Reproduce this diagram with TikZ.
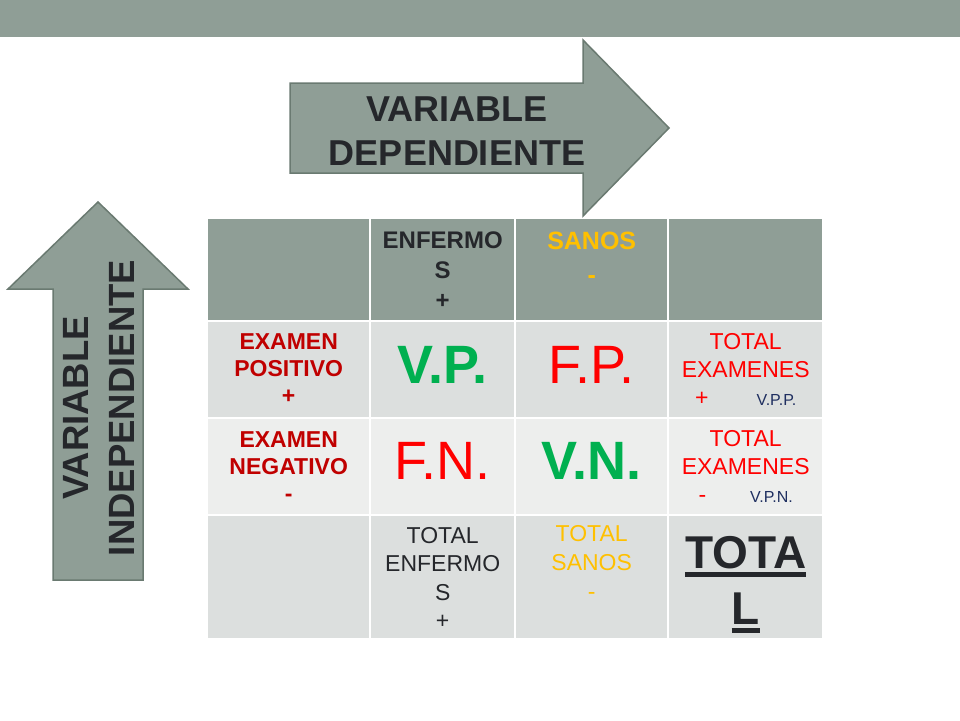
\documentclass[tikz,border=0pt]{standalone}
\usepackage{fontspec}
\setmainfont{Liberation Sans}

\definecolor{slide}{HTML}{8F9E96}
\definecolor{slideline}{HTML}{6A7A71}
\definecolor{rowa}{HTML}{DCDFDE}
\definecolor{rowb}{HTML}{EDEEED}
\definecolor{ink}{HTML}{25272B}
\definecolor{examred}{HTML}{C00000}
\definecolor{hitred}{HTML}{FF0000}
\definecolor{hitgreen}{HTML}{00B050}
\definecolor{sano}{HTML}{FFC000}
\definecolor{navy}{HTML}{1F2F60}

\newcommand{\fs}[2]{\fontsize{#1}{#2}\selectfont}
\newcommand{\thickul}[1]{\setbox0\hbox{#1}\rlap{\rule[-8.5pt]{\wd0}{5pt}}\box0}

\begin{document}
\begin{tikzpicture}[x=1pt,y=-1pt,
  cell/.style={inner sep=0pt,anchor=north west},
  txt/.style={inner sep=0pt,align=center},
  bigarrow/.style={fill=slide,draw=slideline,line width=1.5pt}]

\useasboundingbox (0,0) rectangle (960,720);
\fill[slide] (0,0) rectangle (960,37);

\draw[bigarrow] (290,83) -- (583,83) -- (583,40) -- (669,128) -- (583,216) -- (583,173) -- (290,173) -- cycle;
\node[txt,text=ink,font=\bfseries\fs{36}{44}] (vdep) at (457,131) {VARIABLE\\DEPENDIENTE};

\draw[bigarrow] (53,580) -- (53,289) -- (8,289) -- (98,202) -- (188,289) -- (143,289) -- (143,580) -- cycle;
\node[txt,text=ink,font=\bfseries\fs{36.5}{46},rotate=90] (vind) at (99,408) {VARIABLE\\INDEPENDIENTE};

\foreach \r/\ty/\h/\col in {0/219/101/slide,1/322/95/rowa,2/419/95/rowb,3/516/122/rowa}
  \foreach \c/\lx/\w in {0/208/161,1/371/143,2/516/151,3/669/153}
    \node[cell,fill=\col,minimum width=\w pt,minimum height=\h pt] (c\r\c) at (\lx,\ty) {};

\node[txt,text=ink,font=\bfseries\fs{24}{30}] (hsick) at (c01) {ENFERMO\\S\\+};
\node[txt,text=sano,font=\bfseries\fs{25}{34},anchor=north] (hwell) at ([yshift=-13pt]c02.north) {SANOS\\-};

\node[txt,text=examred,font=\bfseries\fs{23}{27}] (pos) at ([yshift=1pt]c10) {EXAMEN\\POSITIVO\\+};
\node[txt,text=hitgreen,font=\bfseries\fs{54}{60}] (vp) at ([yshift=5pt]c11) {V.P.};
\node[txt,text=hitred,font=\fs{54}{60}] (fp) at ([yshift=5pt]c12) {F.P.};
\node[txt,text=hitred,font=\fs{23}{28}] (tpos) at (c13) {TOTAL\\EXAMENES\\+\hspace{48pt}{\color{navy}\fs{16}{20}V.P.P.}};

\node[txt,text=examred,font=\bfseries\fs{23}{27}] (neg) at (c20) {EXAMEN\\NEGATIVO\\-};
\node[txt,text=hitred,font=\fs{54}{60}] (fn) at ([yshift=6pt]c21) {F.N.};
\node[txt,text=hitgreen,font=\bfseries\fs{54}{60}] (vn) at ([yshift=6pt]c22) {V.N.};
\node[txt,text=hitred,font=\fs{23}{28}] (tneg) at (c23) {TOTAL\\EXAMENES\\-\hspace{44pt}{\color{navy}\fs{16}{20}V.P.N.}};

\node[txt,text=ink,font=\fs{23}{28.5}] (tsick) at ([yshift=-1pt]c31) {TOTAL\\ENFERMO\\S\\+};
\node[txt,text=sano,font=\fs{23}{29},anchor=north] (twell) at ([yshift=-9.5pt]c32.north) {TOTAL\\SANOS\\-};
\node[txt,text=ink,font=\bfseries\fs{46}{56},anchor=north] (total) at ([yshift=-20pt]c33.north) {\thickul{TOTA}\\\thickul{L}};

\end{tikzpicture}
\end{document}
